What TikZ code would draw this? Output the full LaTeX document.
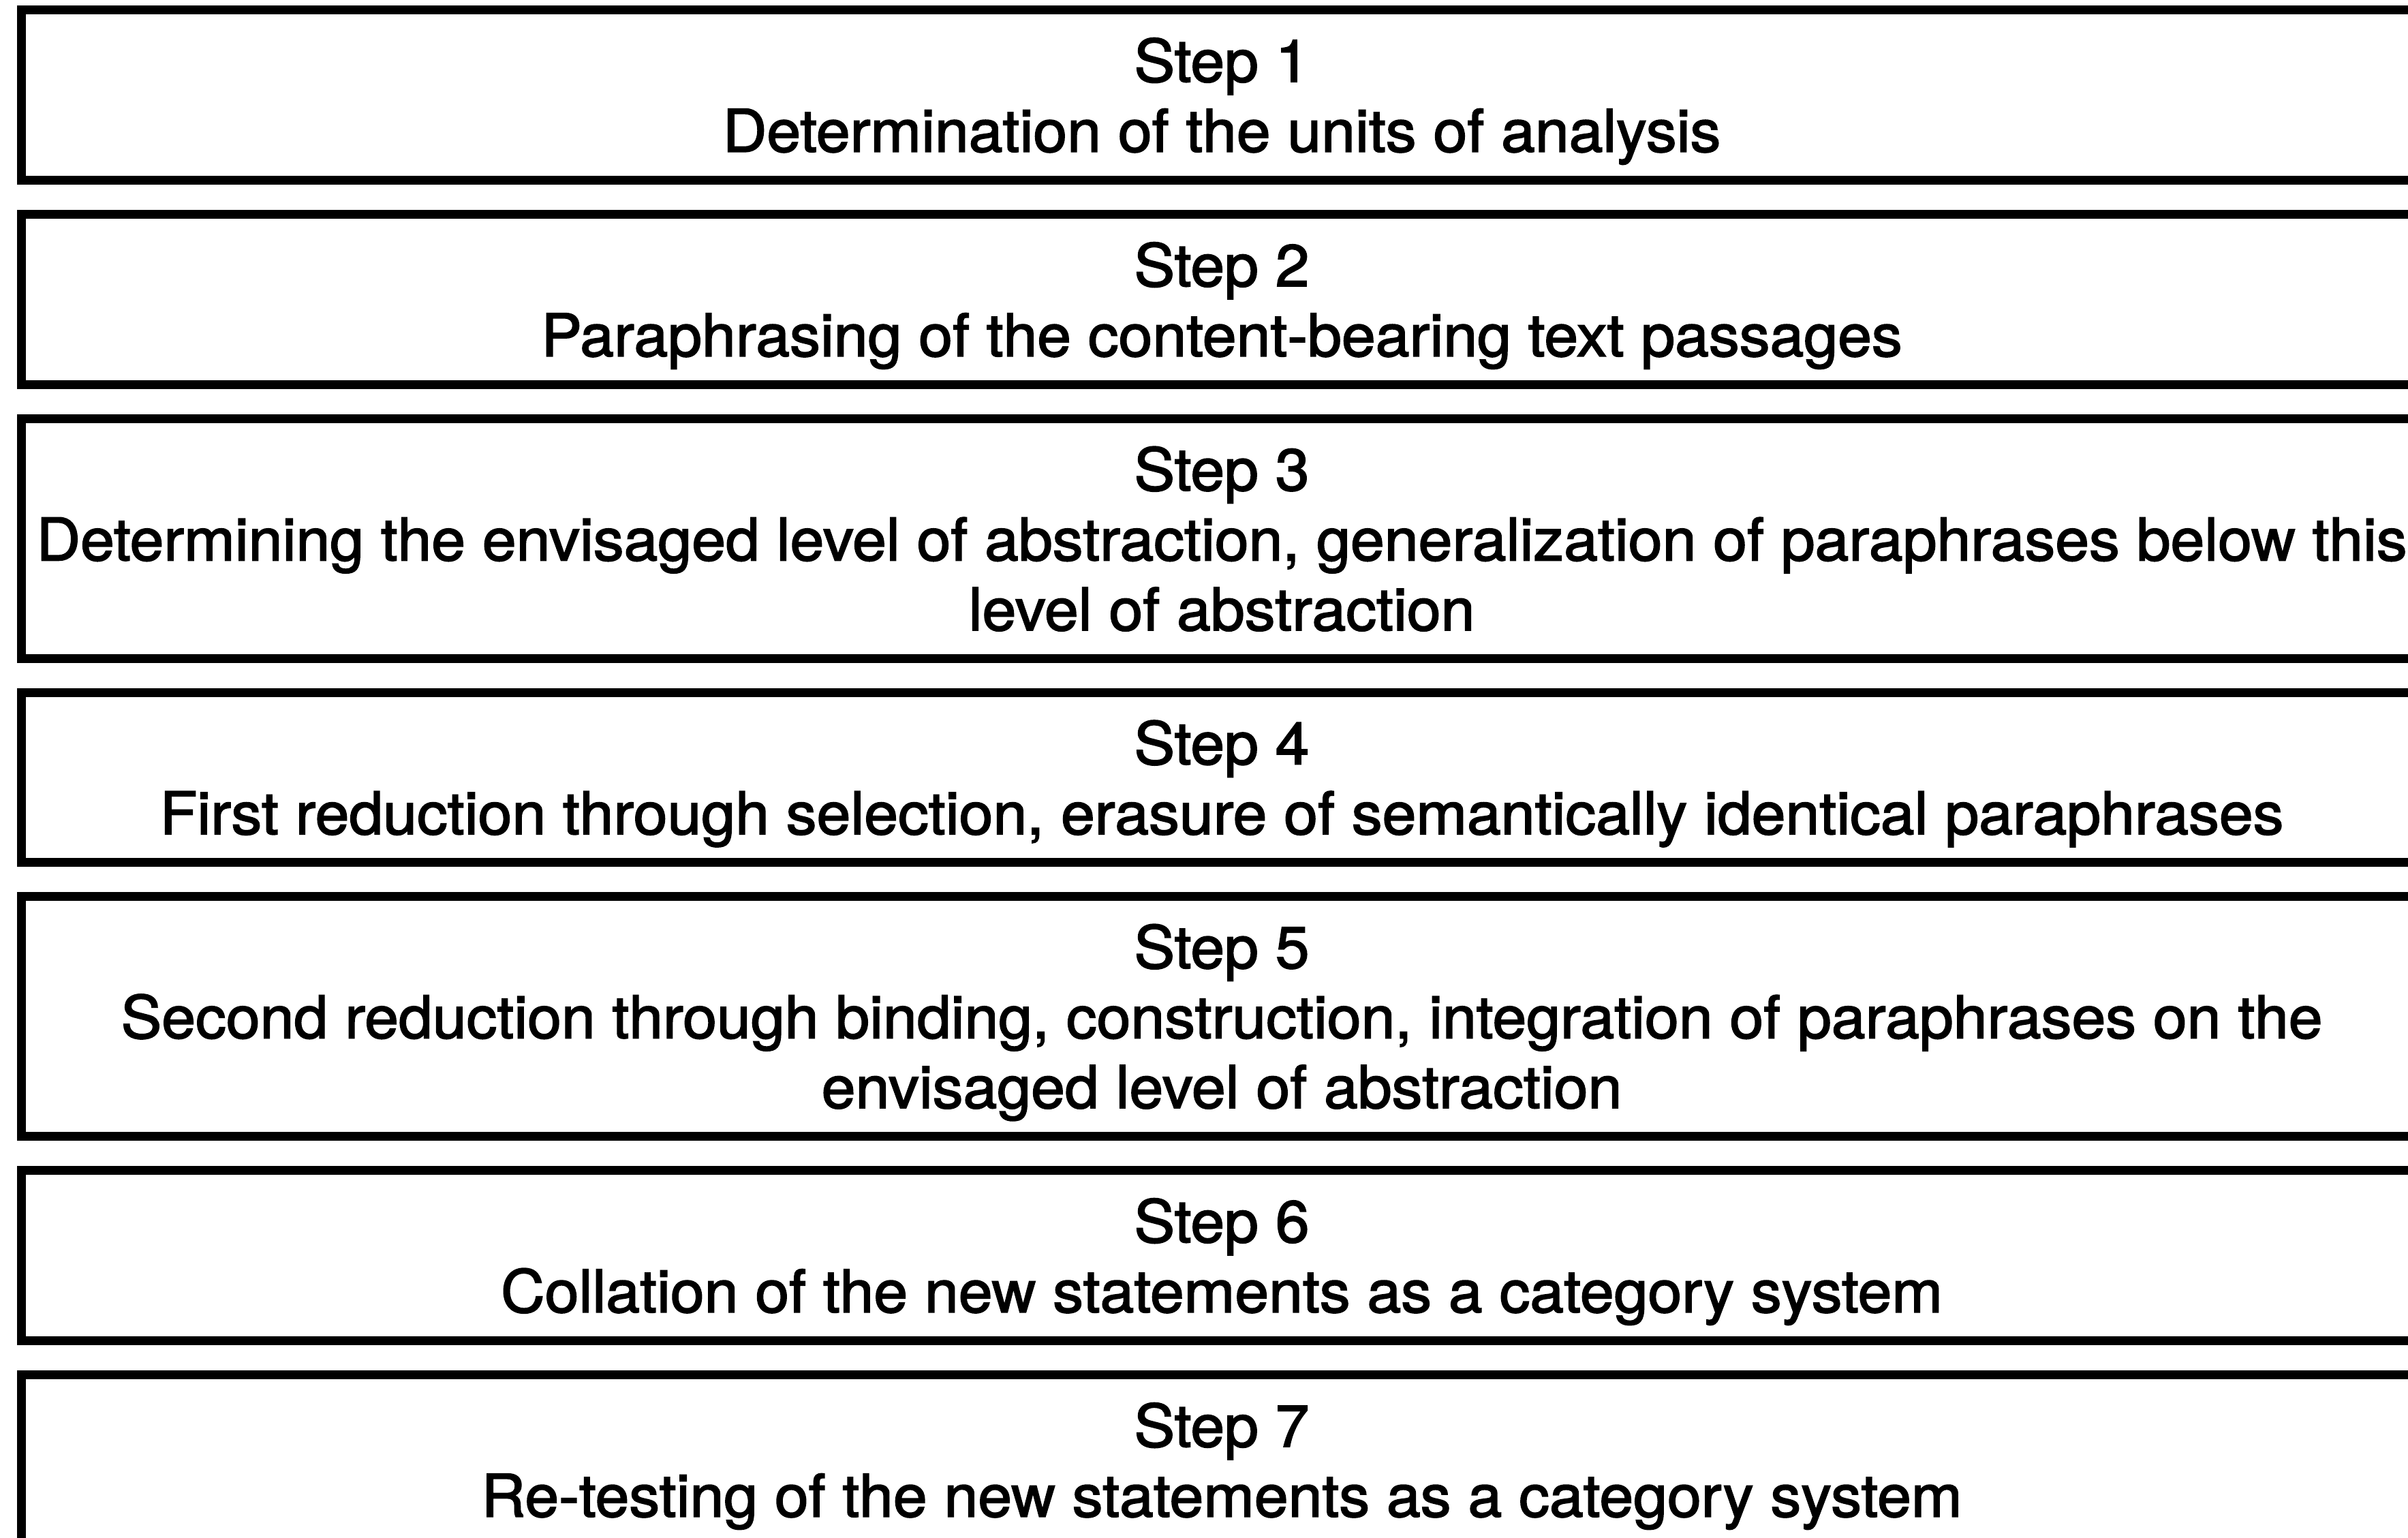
\documentclass[tikz,border=0pt]{standalone}
\usepackage{fontspec}
\setmainfont{TeX Gyre Heros}
\newfontfamily\stepfont{TeX Gyre Heros}[FakeBold=2, FakeStretch=1.036]
\begin{document}
\begin{tikzpicture}[
  stepbox/.style={draw=black, line width=0.13cm, rectangle, minimum width=35.09cm, inner sep=0pt},
  steptext/.style={align=center, inner sep=0pt, font=\stepfont\fontsize{24.6}{29.2}\selectfont, yshift=-0.09cm, xshift=0.07cm}
]
\useasboundingbox (0,0) rectangle (35.34,-22.56);
\clip (0,0) rectangle (35.34,-22.56);

% step frames: centre x, centre y, height
\node[stepbox, minimum height=2.50cm] (s1) at (17.86,-1.395) {};
\node[stepbox, minimum height=2.50cm] (s2) at (17.86,-4.395) {};
\node[stepbox, minimum height=3.52cm] (s3) at (17.86,-7.905) {};
\node[stepbox, minimum height=2.49cm] (s4) at (17.86,-11.410) {};
\node[stepbox, minimum height=3.52cm] (s5) at (17.86,-14.915) {};
\node[stepbox, minimum height=2.50cm] (s6) at (17.86,-18.425) {};
\node[stepbox, minimum height=2.50cm] (s7) at (17.86,-21.425) {};

% step labels
\node[steptext] (t1) at (s1.center) {Step 1\\Determination of the units of analysis};
\node[steptext] (t2) at (s2.center) {Step 2\\Paraphrasing of the content-bearing text passages};
\node[steptext] (t3) at (s3.center) {Step 3\\Determining the envisaged level of abstraction, generalization of paraphrases below this\\level of abstraction\vphantom{g}};
\node[steptext] (t4) at (s4.center) {Step 4\\First reduction through selection, erasure of semantically identical paraphrases};
\node[steptext] (t5) at (s5.center) {Step 5\\Second reduction through binding, construction, integration of paraphrases on the\\envisaged level of abstraction};
\node[steptext] (t6) at (s6.center) {Step 6\\Collation of the new statements as a category system};
\node[steptext] (t7) at (s7.center) {Step 7\\Re-testing of the new statements as a category system};
\end{tikzpicture}
\end{document}
